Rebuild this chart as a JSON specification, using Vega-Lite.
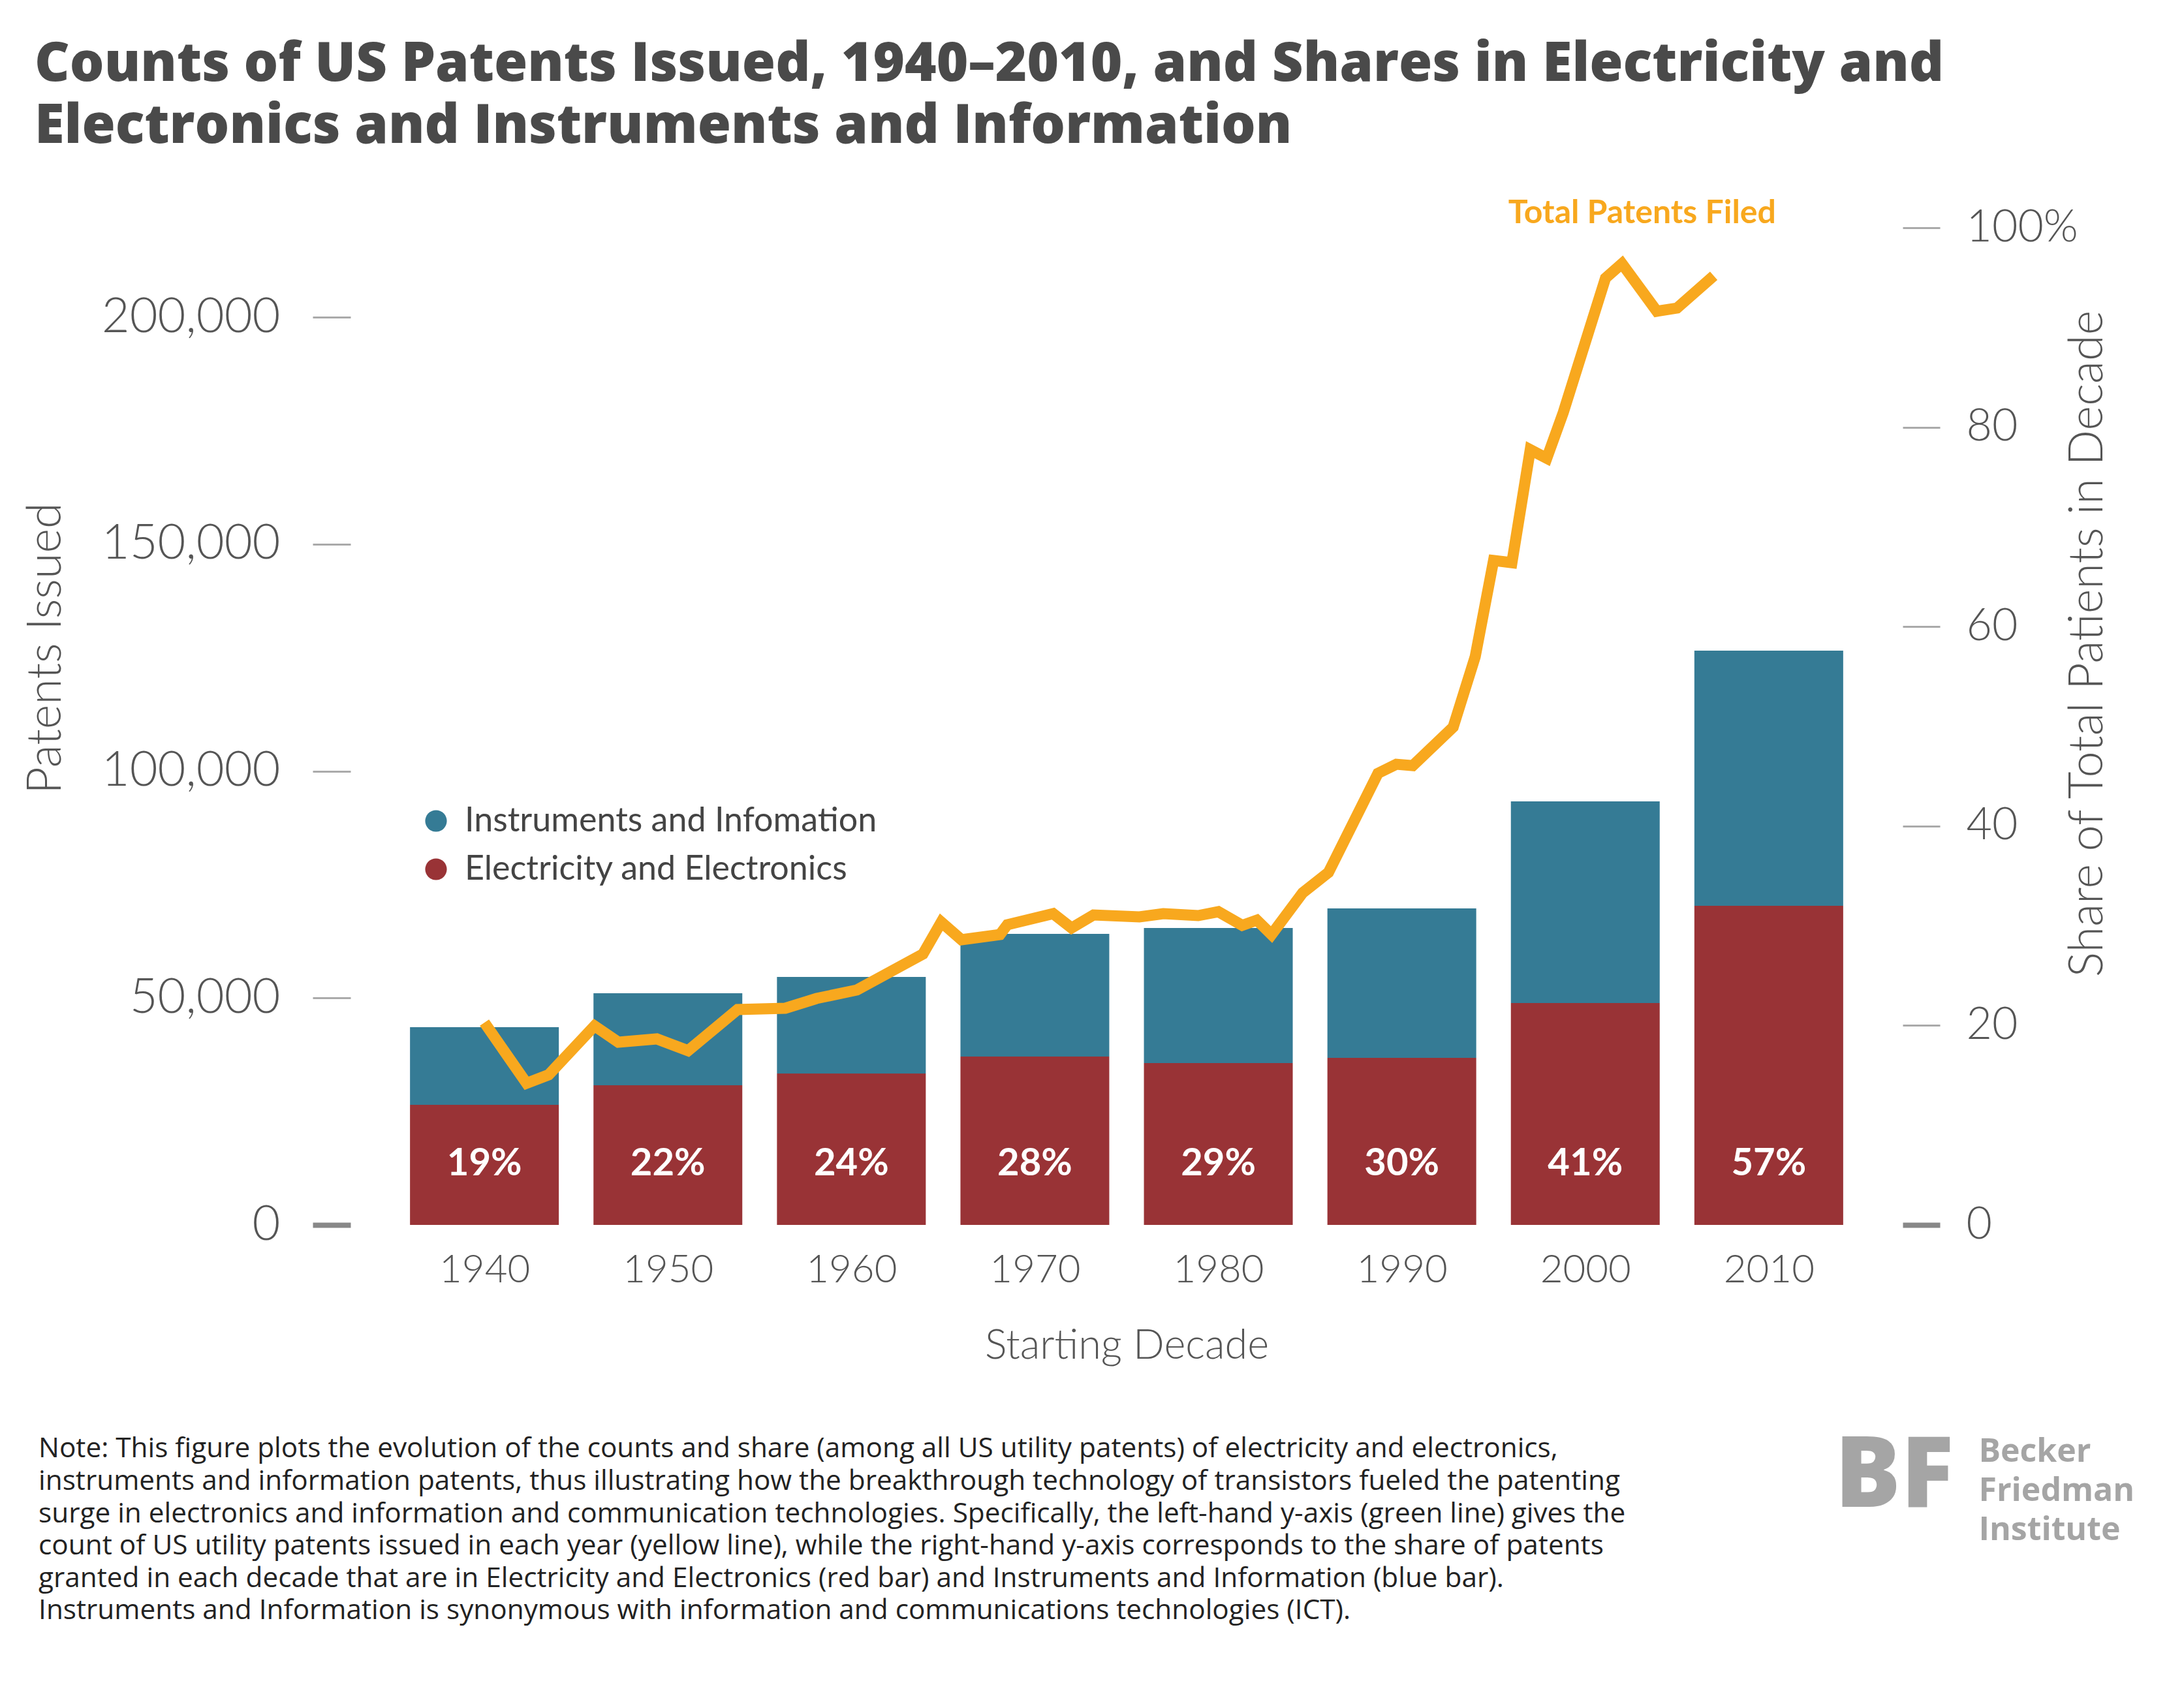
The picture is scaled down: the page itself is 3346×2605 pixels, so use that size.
{
"$schema":"https://vega.github.io/schema/vega-lite/v6.json",
"autosize":"none",
"width":2378,"height":1528,
"padding":{"left":537,"top":349,"right":431,"bottom":728},
"background":"white",
"config":{"view":{"stroke":null},"font":"Lato","axis":{"labelLimit":0}},
"title":{"text":["Counts of US Patents Issued, 1940–2010, and Shares in Electricity and","Electronics and Instruments and Information"],"anchor":"start","frame":"group","dx":-484,"offset":66,"fontSize":83,"lineHeight":95,"font":"Open Sans","fontWeight":800,"color":"#4a4a4a"},
"datasets":{
"bars":[
{"decade":1940,"category":"Electricity and Electronics","count":26460,"share":"19%"},
{"decade":1940,"category":"Instruments and Infomation","count":17100,"share":""},
{"decade":1950,"category":"Electricity and Electronics","count":30770,"share":"22%"},
{"decade":1950,"category":"Instruments and Infomation","count":20270,"share":""},
{"decade":1960,"category":"Electricity and Electronics","count":33360,"share":"24%"},
{"decade":1960,"category":"Instruments and Infomation","count":21280,"share":""},
{"decade":1970,"category":"Electricity and Electronics","count":37100,"share":"28%"},
{"decade":1970,"category":"Instruments and Infomation","count":27030,"share":""},
{"decade":1980,"category":"Electricity and Electronics","count":35660,"share":"29%"},
{"decade":1980,"category":"Instruments and Infomation","count":29760,"share":""},
{"decade":1990,"category":"Electricity and Electronics","count":36810,"share":"30%"},
{"decade":1990,"category":"Instruments and Infomation","count":32920,"share":""},
{"decade":2000,"category":"Electricity and Electronics","count":48890,"share":"41%"},
{"decade":2000,"category":"Instruments and Infomation","count":44420,"share":""},
{"decade":2010,"category":"Electricity and Electronics","count":70310,"share":"57%"},
{"decade":2010,"category":"Instruments and Infomation","count":56220,"share":""}
],
"line":[
{"year":1940,"patents":44570},{"year":1942.3,"patents":31200},{"year":1943.5,"patents":33070},{"year":1946,"patents":43850},{"year":1947.3,"patents":40260},{"year":1949.4,"patents":40980},{"year":1951.1,"patents":38390},{"year":1953.8,"patents":47450},{"year":1956.4,"patents":47740},{"year":1958.1,"patents":49890},{"year":1960.3,"patents":51760},{"year":1963.9,"patents":59670},{"year":1964.9,"patents":66710},{"year":1966,"patents":62830},{"year":1968.1,"patents":63980},{"year":1968.5,"patents":66140},{"year":1971,"patents":68580},{"year":1972,"patents":65420},{"year":1973.2,"patents":68300},{"year":1975.7,"patents":67870},{"year":1977,"patents":68580},{"year":1978.9,"patents":68150},{"year":1980,"patents":69010},{"year":1981.3,"patents":66000},{"year":1982.1,"patents":67150},{"year":1982.9,"patents":63980},{"year":1984.6,"patents":73190},{"year":1986,"patents":77640},{"year":1988.7,"patents":99500},{"year":1989.7,"patents":101500},{"year":1990.6,"patents":101200},{"year":1992.8,"patents":109700},{"year":1994,"patents":125200},{"year":1995,"patents":146400},{"year":1996,"patents":145900},{"year":1997,"patents":170800},{"year":1997.9,"patents":168900},{"year":1998.8,"patents":179000},{"year":2001.1,"patents":208600},{"year":2002,"patents":211800},{"year":2003.9,"patents":201300},{"year":2005,"patents":202000},{"year":2007,"patents":209100}
]
},
"layer":[
{
"layer":[
{"data":{"name":"bars"},"mark":{"type":"bar","size":228},
"encoding":{
"x":{"field":"decade","type":"quantitative","scale":{"domain":[1932.88,2017.12],"nice":false,"zero":false},
 "axis":{"values":[1940,1950,1960,1970,1980,1990,2000,2010],"format":"d","grid":false,"domain":false,"ticks":false,"labelPadding":40,"labelFontSize":60,"labelFontWeight":300,"labelColor":"#555","title":"Starting Decade","titleFontSize":63,"titleFontWeight":300,"titleColor":"#555","titlePadding":55}},
"y":{"field":"count","type":"quantitative","stack":"zero","scale":{"domain":[0,219700],"nice":false},
 "axis":{"orient":"left","values":[0,50000,100000,150000,200000],"grid":false,"domain":false,"tickSize":58,"tickColor":{"condition":{"test":"datum.value==0","value":"#888"},"value":"#aaa"},"tickWidth":{"condition":{"test":"datum.value==0","value":8},"value":3},"labelPadding":50,"labelFontSize":74,"labelFontWeight":300,"labelColor":"#555","title":"Patents Issued","titleFontSize":72,"titleFontWeight":300,"titleColor":"#555","titleAngle":270,"titleX":-430,"titleY":644}},
"color":{"field":"category","type":"nominal","scale":{"domain":["Instruments and Infomation","Electricity and Electronics"],"range":["#357b95","#993336"]},
 "legend":{"orient":"none","legendX":105,"legendY":883,"title":null,"symbolType":"circle","symbolSize":1100,"symbolOpacity":1,"labelFontSize":52,"labelColor":"#444","labelFont":"Lato","labelLimit":2000,"rowPadding":22,"labelOffset":18}},
"order":{"field":"category","sort":"ascending"}
}},
{"data":{"name":"bars"},"transform":[{"filter":"datum.share != ''"}],"mark":{"type":"text","color":"white","fontSize":58,"fontWeight":"bold","baseline":"middle"},
"encoding":{"x":{"field":"decade","type":"quantitative"},"y":{"datum":13370},"text":{"field":"share"}}},
{"data":{"name":"line"},"mark":{"type":"line","color":"#f8a81e","strokeWidth":17,"strokeJoin":"miter"},
"encoding":{"x":{"field":"year","type":"quantitative"},"y":{"field":"patents","type":"quantitative"}}},
{"data":{"values":[{"t":"Total Patents Filed"}]},"mark":{"type":"text","color":"#f8a81e","fontSize":50,"fontWeight":"bold","baseline":"middle","clip":false},
"encoding":{"x":{"datum":2003.1},"y":{"datum":222860},"text":{"field":"t"}}},
{"data":{"values":[{"t":["Note: This figure plots the evolution of the counts and share (among all US utility patents) of electricity and electronics,","instruments and information patents, thus illustrating how the breakthrough technology of transistors fueled the patenting","surge in electronics and information and communication technologies. Specifically, the left-hand y-axis (green line) gives the","count of US utility patents issued in each year (yellow line), while the right-hand y-axis corresponds to the share of patents","granted in each decade that are in Electricity and Electronics (red bar) and Instruments and Information (blue bar).","Instruments and Information is synonymous with information and communications technologies (ICT)."]}]},
"mark":{"type":"text","align":"left","baseline":"top","fontSize":42.3,"lineHeight":49.6,"font":"Open Sans","color":"#222","clip":false},
"encoding":{"x":{"datum":1915.7},"y":{"datum":-46500},"text":{"field":"t"}}},
{"data":{"values":[{"t":["Becker","Friedman","Institute"]}]},
"mark":{"type":"text","align":"left","baseline":"top","fontSize":50,"lineHeight":60,"font":"Open Sans","fontWeight":"bold","color":"#a5a5a5","clip":false},
"encoding":{"x":{"datum":2021.44},"y":{"datum":-46500},"text":{"field":"t"}}},
{"data":{"values":[{"t":"BF"}]},
"mark":{"type":"text","align":"left","baseline":"top","fontSize":150,"font":"Open Sans","fontWeight":800,"color":"#a5a5a5","clip":false},
"encoding":{"x":{"datum":2013.6},"y":{"datum":-45000},"text":{"field":"t"}}}
]
},
{"data":{"values":[{"v":0},{"v":100}]},"mark":{"type":"point","opacity":0},
"encoding":{"y":{"field":"v","type":"quantitative","scale":{"domain":[0,100],"nice":false},
 "axis":{"orient":"right","values":[0,20,40,60,80,100],"labelExpr":"datum.value==100 ? '100%' : datum.label","grid":false,"domain":false,"tickSize":57,"tickColor":{"condition":{"test":"datum.value==0","value":"#888"},"value":"#aaa"},"tickWidth":{"condition":{"test":"datum.value==0","value":8},"value":3},"labelPadding":40,"labelFontSize":68,"labelFontWeight":300,"labelColor":"#555","title":"Share of Total Patients in Decade","titleFontSize":72,"titleFontWeight":300,"titleColor":"#555","titleAngle":270,"titleX":320,"titleY":637}}}}
],
"resolve":{"scale":{"y":"independent"}}
}
